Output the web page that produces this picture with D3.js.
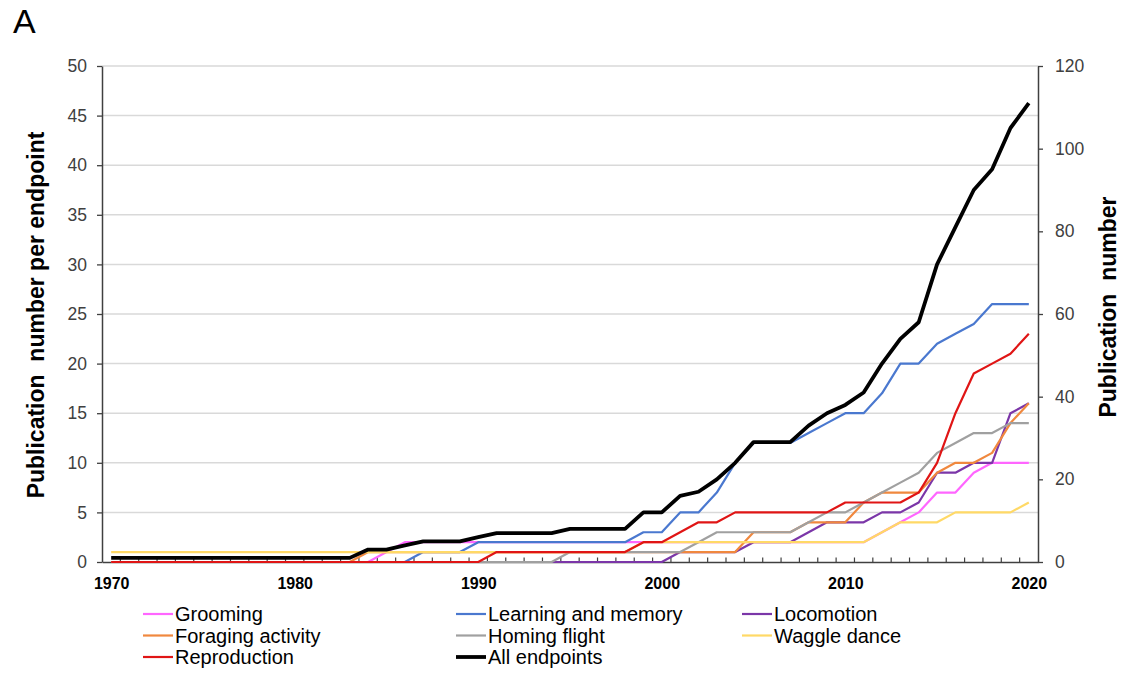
<!DOCTYPE html>
<html>
<head>
<meta charset="utf-8">
<script src="https://cdn.jsdelivr.net/npm/d3@7"></script>
<style>
  html, body { margin: 0; padding: 0; background: #fff; }
  svg { display: block; font-family: "Liberation Sans", Arial, sans-serif; }
  .axis-title { white-space: pre; }
</style>
</head>
<body>
<svg id="chart" width="1121" height="674"></svg>
<script>
// Years on the category axis
const years = d3.range(1970, 2021);

// Cumulative publications per endpoint (left axis)
const grooming = [0,0,0,0,0,0,0,0,0,0, 0,0,0,0,0,1,2,2,2,2, 2,2,2,2,2,2,2,2,2,2, 2,2,2,2,2,2,2,2,2,2, 2,2,3,4,5,7,7,9,10,10, 10];
const learning = [0,0,0,0,0,0,0,0,0,0, 0,0,0,0,0,0,0,1,1,1, 2,2,2,2,2,2,2,2,2,3, 3,5,5,7,10,12,12,12,13,14, 15,15,17,20,20,22,23,24,26,26, 26];
const locomotion = [0,0,0,0,0,0,0,0,0,0, 0,0,0,0,0,0,0,0,0,0, 0,0,0,0,0,0,0,0,0,0, 0,1,1,1,1,2,2,2,3,4, 4,4,5,5,6,9,9,10,10,15, 16];
const foraging = [0,0,0,0,0,0,0,0,0,0, 0,0,0,0,1,1,1,1,1,1, 1,1,1,1,1,1,1,1,1,1, 1,1,1,1,1,3,3,3,4,4, 4,6,7,7,7,9,10,10,11,14, 16];
const homing = [0,0,0,0,0,0,0,0,0,0, 0,0,0,0,0,0,0,0,0,0, 0,0,0,0,0,1,1,1,1,1, 1,1,2,3,3,3,3,3,4,5, 5,6,7,8,9,11,12,13,13,14, 14];
const waggle = [1,1,1,1,1,1,1,1,1,1, 1,1,1,1,1,1,1,1,1,1, 1,1,1,1,1,1,1,1,1,2, 2,2,2,2,2,2,2,2,2,2, 2,2,3,4,4,4,5,5,5,5, 6];
const reproduction = [0,0,0,0,0,0,0,0,0,0, 0,0,0,0,0,0,0,0,0,0, 0,1,1,1,1,1,1,1,1,2, 2,3,4,4,5,5,5,5,5,5, 6,6,6,6,7,10,15,19,20,21, 23];

// Cumulative publications over all endpoints (right axis)
const allEndpoints = [1,1,1,1,1,1,1,1,1,1, 1,1,1,1,3,3,4,5,5,5, 6,7,7,7,7,8,8,8,8,12, 12,16,17,20,24,29,29,29,33,36, 38,41,48,54,58,72,81,90,95,105, 111];

// Axis tick values
const leftTicks = d3.range(0, 51, 5);
const rightTicks = d3.range(0, 121, 20);
const yearLabels = [1970, 1980, 1990, 2000, 2010, 2020];

const series = [
  { name: "Grooming", values: grooming, color: "#FF66FF", width: 2.2, axis: "left" },
  { name: "Learning and memory", values: learning, color: "#4A78CF", width: 2.2, axis: "left" },
  { name: "Locomotion", values: locomotion, color: "#7B36A8", width: 2.2, axis: "left" },
  { name: "Foraging activity", values: foraging, color: "#F0883E", width: 2.2, axis: "left" },
  { name: "Homing flight", values: homing, color: "#A0A0A0", width: 2.2, axis: "left" },
  { name: "Waggle dance", values: waggle, color: "#FFD966", width: 2.2, axis: "left" },
  { name: "Reproduction", values: reproduction, color: "#E01515", width: 2.2, axis: "left" },
  { name: "All endpoints", values: allEndpoints, color: "#000000", width: 3.8, axis: "right" }
];

const svg = d3.select("#chart");
const plotLeft = 102, plotRight = 1038, plotTop = 66, plotBottom = 562;

const x = d3.scaleBand().domain(years).range([plotLeft, plotRight]).padding(0);
const cx = yr => x(yr) + x.bandwidth() / 2;
const yL = d3.scaleLinear().domain([0, 50]).range([plotBottom, plotTop]);
const yR = d3.scaleLinear().domain([0, 120]).range([plotBottom, plotTop]);

// Horizontal gridlines
svg.append("g")
  .selectAll("line")
  .data(leftTicks.filter(v => v > 0))
  .join("line")
  .attr("x1", plotLeft).attr("x2", plotRight)
  .attr("y1", d => yL(d)).attr("y2", d => yL(d))
  .attr("stroke", "#d9d9d9").attr("stroke-width", 1.5);

// Left axis
const gL = svg.append("g").attr("transform", `translate(${plotLeft},0)`)
  .call(d3.axisLeft(yL).tickValues(leftTicks).tickSize(5).tickPadding(10).tickSizeOuter(0));
gL.select(".domain").attr("stroke", "#404040").attr("stroke-width", 1.5);
gL.selectAll(".tick line").attr("stroke", "#404040").attr("stroke-width", 1.3);
gL.selectAll(".tick text").attr("font-size", 17.5).attr("fill", "#404040")
  .attr("font-family", "Liberation Sans, Arial, sans-serif");

// Right axis
const gR = svg.append("g").attr("transform", `translate(${plotRight},0)`)
  .call(d3.axisRight(yR).tickValues(rightTicks).tickSize(5).tickPadding(12).tickSizeOuter(0));
gR.select(".domain").attr("stroke", "#404040").attr("stroke-width", 1.5);
gR.selectAll(".tick line").attr("stroke", "#404040").attr("stroke-width", 1.3);
gR.selectAll(".tick text").attr("font-size", 17.5).attr("fill", "#404040")
  .attr("font-family", "Liberation Sans, Arial, sans-serif");

// Category tick marks between years, pointing into the plot
svg.append("g")
  .selectAll("line")
  .data(years.slice(1))
  .join("line")
  .attr("x1", d => x(d)).attr("x2", d => x(d))
  .attr("y1", plotBottom).attr("y2", plotBottom - 4.5)
  .attr("stroke", "#404040").attr("stroke-width", 1.2);

// Bottom axis with decade labels
const xLin = d3.scaleLinear().domain([1969.5, 2020.5]).range([plotLeft, plotRight]);
const gX = svg.append("g").attr("transform", `translate(0,${plotBottom})`)
  .call(d3.axisBottom(xLin).tickValues(yearLabels).tickFormat(d3.format("d")).tickSize(0).tickPadding(16));
gX.select(".domain").attr("stroke", "#404040").attr("stroke-width", 1.5);
gX.selectAll(".tick text").attr("font-size", 16).attr("font-weight", "bold").attr("fill", "#000")
  .attr("font-family", "Liberation Sans, Arial, sans-serif");

// Series lines
const lineGen = scale => d3.line()
  .x((d, i) => cx(years[i]))
  .y(d => scale(d));

svg.append("g")
  .selectAll("path")
  .data(series)
  .join("path")
  .attr("d", s => lineGen(s.axis === "left" ? yL : yR)(s.values))
  .attr("fill", "none")
  .attr("stroke", s => s.color)
  .attr("stroke-width", s => s.width)
  .attr("stroke-linejoin", "round")
  .attr("stroke-linecap", "butt");

// Axis titles
svg.append("text")
  .attr("class", "axis-title")
  .attr("transform", `translate(44,${(plotTop + plotBottom) / 2 + 1}) rotate(-90)`)
  .attr("text-anchor", "middle")
  .attr("font-size", 23).attr("font-weight", "bold").attr("fill", "#000")
  .text("Publication  number per endpoint");

svg.append("text")
  .attr("class", "axis-title")
  .attr("transform", `translate(1116,307) rotate(-90)`)
  .attr("text-anchor", "middle")
  .attr("font-size", 23).attr("font-weight", "bold").attr("fill", "#000")
  .text("Publication  number");

// Panel letter
svg.append("text")
  .attr("x", 13).attr("y", 33)
  .attr("font-size", 34).attr("fill", "#000")
  .text("A");

// Legend: three columns, row-major
const legendCols = [143, 456, 742];
const legendRows = [614, 635.5, 657];
const leg = svg.append("g")
  .selectAll("g")
  .data(series)
  .join("g")
  .attr("transform", (d, i) => `translate(${legendCols[i % 3]},${legendRows[Math.floor(i / 3)]})`);
leg.append("line")
  .attr("x1", 0).attr("x2", 30).attr("y1", 0).attr("y2", 0)
  .attr("stroke", d => d.color)
  .attr("stroke-width", d => d.width);
leg.append("text")
  .attr("x", 32).attr("y", 0).attr("dy", "0.35em")
  .attr("font-size", 20).attr("fill", "#000")
  .text(d => d.name);
</script>
</body>
</html>
